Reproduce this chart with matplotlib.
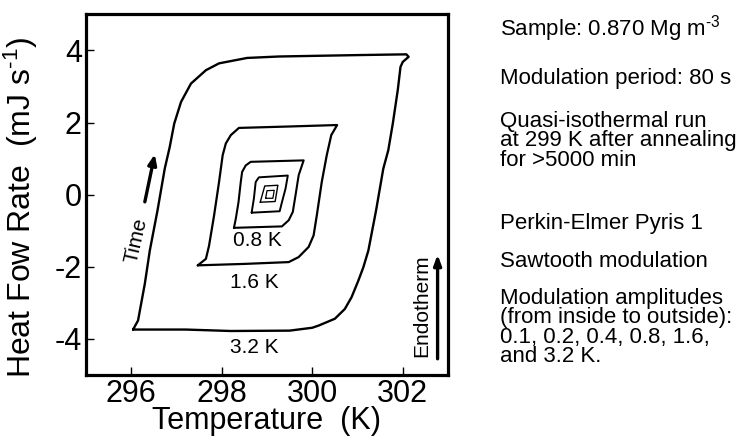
import matplotlib
matplotlib.use("Agg")
import matplotlib.pyplot as plt

plt.rcParams['font.family'] = ['Liberation Sans', 'DejaVu Sans']
plt.rcParams['mathtext.fontset'] = 'custom'
plt.rcParams['mathtext.rm'] = 'Liberation Sans'
plt.rcParams['mathtext.it'] = 'Liberation Sans:italic'
plt.rcParams['mathtext.bf'] = 'Liberation Sans:bold'
plt.rcParams['axes.unicode_minus'] = False

# ---------------- data ----------------
loop_32_T = [296.04, 297.20, 298.20, 299.50, 300.00, 300.14, 300.50, 300.72, 300.87,
             301.02, 301.13, 301.24, 301.41, 301.57, 301.68, 301.78, 301.89, 301.95,
             302.00, 302.13, 302.08, 301.05, 300.14, 299.26, 298.56, 297.94, 297.65,
             297.32, 297.10, 296.95, 296.85, 296.74, 296.58, 296.41, 296.30, 296.15, 296.04]
loop_32_HF = [-3.74, -3.74, -3.78, -3.77, -3.69, -3.63, -3.44, -3.17, -2.84,
              -2.38, -2.01, -1.55, -0.44, 0.72, 1.23, 1.97, 2.90, 3.54,
              3.68, 3.82, 3.89, 3.87, 3.85, 3.83, 3.79, 3.64, 3.45,
              3.08, 2.57, 1.97, 1.32, 0.72, -0.44, -1.55, -2.47, -3.49, -3.74]

loop_16_T = [297.47, 298.50, 299.48, 299.70, 299.92, 300.03, 300.10, 300.21, 300.32,
             300.42, 300.55, 299.50, 298.38, 298.20, 298.09, 298.02, 297.94, 297.83,
             297.72, 297.65, 297.47]
loop_16_HF = [-1.96, -1.92, -1.87, -1.73, -1.45, -1.13, -0.58, 0.35, 1.09,
              1.65, 1.93, 1.89, 1.85, 1.65, 1.42, 1.09, 0.35, -0.58,
              -1.41, -1.78, -1.96]

loop_08_T = [298.27, 299.33, 299.48, 299.57, 299.63, 299.70, 299.81, 298.64, 298.53,
             298.45, 298.42, 298.37, 298.31, 298.27]
loop_08_HF = [-0.92, -0.88, -0.71, -0.48, -0.02, 0.54, 0.95, 0.91, 0.81,
              0.63, 0.35, -0.21, -0.67, -0.92]

loop_04_T = [298.66, 299.28, 299.33, 299.41, 299.46, 298.82, 298.75, 298.71, 298.66]
loop_04_HF = [-0.50, -0.46, -0.21, 0.17, 0.53, 0.48, 0.35, -0.11, -0.50]

loop_02_T = [298.85, 299.18, 299.24, 298.95, 298.85]
loop_02_HF = [-0.21, -0.19, 0.26, 0.24, -0.21]

loop_01_T = [298.97, 299.13, 299.16, 299.00, 298.97]
loop_01_HF = [-0.10, -0.10, 0.12, 0.11, -0.10]

loop_labels = ["0.8 K", "1.6 K", "3.2 K"]
loop_label_T = [298.79, 298.71, 298.71]
loop_label_HF = [-1.27, -2.43, -4.23]

x_ticks = [296, 298, 300, 302]
y_ticks = [-4, -2, 0, 2, 4]

info_blocks = ["Sample: 0.870 Mg m$^{\\text{-3}}$",
               "Modulation period: 80 s",
               "Quasi-isothermal run\nat 299 K after annealing\nfor >5000 min",
               "Perkin-Elmer Pyris 1",
               "Sawtooth modulation",
               "Modulation amplitudes\n(from inside to outside):\n0.1, 0.2, 0.4, 0.8, 1.6,\nand 3.2 K."]
info_first_center_px = [22, 77, 120, 222, 260, 297]

# ---------------- figure ----------------
W, H = 737, 436
fig = plt.figure(figsize=(W / 100, H / 100), dpi=100)
ax = fig.add_axes([86 / W, 1 - 375 / H, (448 - 86) / W, (375 - 14.3) / H])

loops = [(loop_32_T, loop_32_HF, 1.7), (loop_16_T, loop_16_HF, 1.6),
         (loop_08_T, loop_08_HF, 1.5), (loop_04_T, loop_04_HF, 1.4),
         (loop_02_T, loop_02_HF, 1.0), (loop_01_T, loop_01_HF, 0.9)]
for T, HF, lw in loops:
    ax.plot(T, HF, color='black', lw=lw, solid_joinstyle='round', solid_capstyle='round')

for lab, t, h in zip(loop_labels, loop_label_T, loop_label_HF):
    ax.text(t, h, lab, fontsize=15, ha='center', va='center')

ax.set_xlim(295, 303)
ax.set_ylim(-5, 5)
ax.set_xticks(x_ticks)
ax.set_yticks(y_ticks)
ax.tick_params(direction='in', length=6, width=1, labelsize=22, pad=3,
               top=False, right=False)
for s in ax.spines.values():
    s.set_linewidth(2.3)

ax.set_xlabel("Temperature  (K)", fontsize=22, labelpad=-2)
ax.set_ylabel("Heat Fow Rate  (mJ s$^{\\text{-1}}$)", fontsize=23)
ax.yaxis.set_label_coords(-0.127, 0.465)

# Time arrow and label
ax.annotate("", xy=(296.52, 1.12), xytext=(296.30, -0.20),
            arrowprops=dict(arrowstyle='-|>,head_length=0.6,head_width=0.25',
                            lw=2.4, color='black', shrinkA=0, shrinkB=0))
ax.text(296.12, -1.27, "Time", fontsize=15, rotation=77, ha='center', va='center',
        rotation_mode='anchor')

# Endotherm arrow and label
ax.annotate("", xy=(302.77, -1.66), xytext=(302.77, -4.55),
            arrowprops=dict(arrowstyle='-|>,head_length=0.6,head_width=0.22',
                            lw=2.4, color='black', shrinkA=0, shrinkB=0))
ax.text(302.42, -3.09, "Endotherm", fontsize=15, rotation=90, ha='center', va='center')

# Right-hand notes
for block, yc in zip(info_blocks, info_first_center_px):
    fig.text(500 / W, 1 - (yc - 9) / H, block, fontsize=16, ha='left', va='top',
             linespacing=0.9)

fig.savefig("out.png", dpi=100)
